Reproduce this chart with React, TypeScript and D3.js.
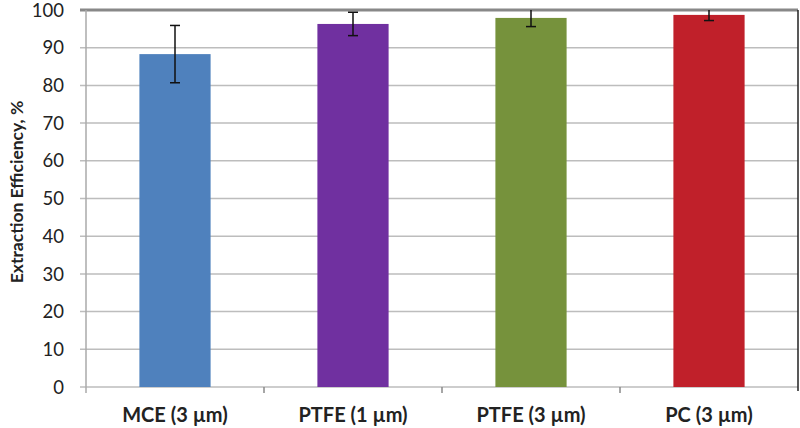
import React from "react";
import * as d3 from "d3";

const categories = ["MCE (3 µm)", "PTFE (1 µm)", "PTFE (3 µm)", "PC (3 µm)"];
const values = [88.3, 96.3, 97.9, 98.7];
const errors = [7.6, 3.1, 2.3, 1.5];
const colors = ["#4F81BD", "#7030A0", "#76923C", "#C0202A"];
const yTicks = [0, 10, 20, 30, 40, 50, 60, 70, 80, 90, 100];

export default function App() {
  const W = 800, H = 428;
  const left = 86, right = 798, top = 10, bottom = 387;
  const band = d3.scaleBand<string>().domain(categories).range([left, right]);
  const y = d3.scaleLinear().domain([0, 100]).range([bottom, top]);
  const font = "Lato, 'Open Sans', sans-serif";
  return (
    <svg width={W} height={H} style={{ position: "absolute", left: 0, top: 0, background: "#fff" }}>
      {yTicks.map((t) => (
        <g key={t}>
          <line x1={80} x2={right} y1={y(t)} y2={y(t)} stroke={t === 100 ? "#888" : "#bdbdbd"} strokeWidth={t === 100 ? 3 : 1.5} />
          <text x={64} y={y(t)} dy="0.36em" textAnchor="end" fontFamily={font} fontSize={18.5} fill="#222">{t}</text>
        </g>
      ))}
      <line x1={left} x2={left} y1={top} y2={bottom + 6} stroke="#aaa" strokeWidth={1.5} />
      <line x1={right} x2={right} y1={top} y2={bottom + 4} stroke="#222" strokeWidth={1.5} />
      {categories.slice(1).map((c) => (
        <line key={c} x1={band(c)!} x2={band(c)!} y1={bottom} y2={bottom + 6} stroke="#888" strokeWidth={1.5} />
      ))}
      {categories.map((c, i) => {
        const cx = band(c)! + band.bandwidth() / 2;
        const bw = band.bandwidth() * 0.4;
        const hi = Math.min(values[i] + errors[i], 100);
        return (
          <g key={c}>
            <rect x={cx - bw / 2} y={y(values[i])} width={bw} height={y(0) - y(values[i])} fill={colors[i]} />
            <line x1={cx} x2={cx} y1={y(hi)} y2={y(values[i] - errors[i])} stroke="#111" strokeWidth={1.5} />
            {values[i] + errors[i] <= 100 && (
              <line x1={cx - 5} x2={cx + 5} y1={y(values[i] + errors[i])} y2={y(values[i] + errors[i])} stroke="#111" strokeWidth={1.5} />
            )}
            <line x1={cx - 5} x2={cx + 5} y1={y(values[i] - errors[i])} y2={y(values[i] - errors[i])} stroke="#111" strokeWidth={1.5} />
            <text x={cx} y={422} textAnchor="middle" fontFamily={font} fontWeight="bold" fontSize={20} fill="#222">{c}</text>
          </g>
        );
      })}
      <text transform={`translate(23, 192) rotate(-90)`} textAnchor="middle" fontFamily={font} fontWeight="bold" fontSize={17.5} fill="#222">Extraction Efficiency, %</text>
    </svg>
  );
}
